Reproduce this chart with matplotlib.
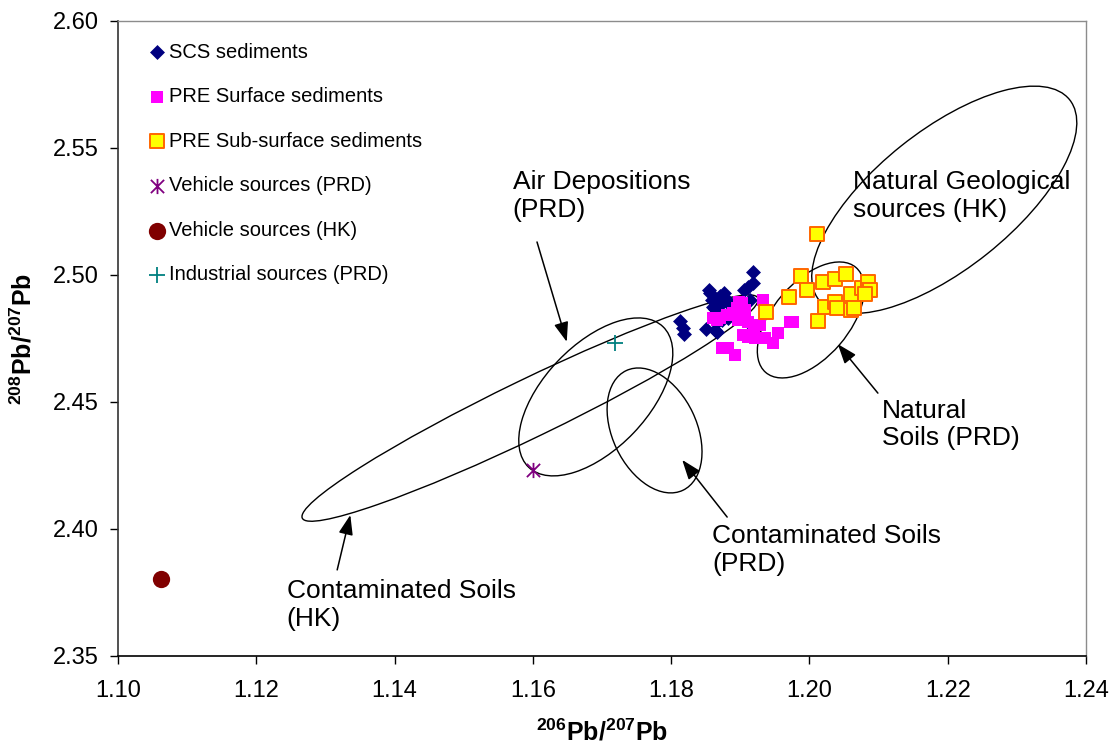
import matplotlib
matplotlib.use('Agg')
import matplotlib.pyplot as plt
from matplotlib.patches import Ellipse
from matplotlib.path import Path
from matplotlib.transforms import ScaledTranslation

plt.rcParams['font.family'] = ['Liberation Sans', 'DejaVu Sans']
plt.rcParams['mathtext.fontset'] = 'custom'
plt.rcParams['mathtext.rm'] = 'Liberation Sans'
plt.rcParams['mathtext.bf'] = 'Liberation Sans:bold'

# ---------------- data ----------------
scs_x = [1.1813, 1.1817, 1.1819, 1.1850, 1.1855, 1.1856, 1.1859, 1.1861, 1.1864, 1.1867,
         1.1867, 1.1871, 1.1874, 1.1876, 1.1881, 1.1882, 1.1885, 1.1897, 1.1905, 1.1911,
         1.1914, 1.1918, 1.1919, 1.1911, 1.1864, 1.1874]
scs_y = [2.4819, 2.4791, 2.4768, 2.4787, 2.4941, 2.4929, 2.4902, 2.4874, 2.4866, 2.4815,
         2.4776, 2.4917, 2.4890, 2.4929, 2.4902, 2.4831, 2.4882, 2.4831, 2.4941, 2.4953,
         2.4902, 2.4969, 2.5012, 2.4815, 2.4783, 2.4823]

pre_surf_x = [1.1861, 1.1867, 1.1871, 1.1890, 1.1895, 1.1898, 1.1903, 1.1902, 1.1907, 1.1902,
              1.1911, 1.1920, 1.1929, 1.1933, 1.1936, 1.1874, 1.1882, 1.1892, 1.1904, 1.1911,
              1.1947, 1.1955, 1.1972, 1.1976, 1.1921, 1.1881, 1.1897]
pre_surf_y = [2.4831, 2.4823, 2.4831, 2.4850, 2.4870, 2.4895, 2.4890, 2.4880, 2.4862, 2.4831,
              2.4815, 2.4799, 2.4803, 2.4902, 2.4752, 2.4713, 2.4713, 2.4685, 2.4764, 2.4756,
              2.4732, 2.4772, 2.4815, 2.4815, 2.4752, 2.4843, 2.4823]

pre_sub_x = [1.1937, 1.1971, 1.1988, 1.1997, 1.2011, 1.2012, 1.2020, 1.2023, 1.2037, 1.2037,
             1.2053, 1.2060, 1.2060, 1.2076, 1.2085, 1.2085, 1.2088, 1.2080, 1.2040, 1.2064]
pre_sub_y = [2.4854, 2.4913, 2.4996, 2.4941, 2.5161, 2.4819, 2.4974, 2.4874, 2.4984, 2.4894,
             2.5004, 2.4925, 2.4862, 2.4949, 2.4974, 2.4941, 2.4941, 2.4925, 2.4870, 2.4870]

veh_prd_x = [1.1600]
veh_prd_y = [2.4232]
veh_hk_x = [1.1062]
veh_hk_y = [2.3805]
ind_prd_x = [1.1719]
ind_prd_y = [2.4732]

x_ticks = [1.10, 1.12, 1.14, 1.16, 1.18, 1.20, 1.22, 1.24]
y_ticks = [2.35, 2.40, 2.45, 2.50, 2.55, 2.60]

# field ellipses: centre (data), semi-axes (pixels), angle (deg)
ell_cx = [1.2195, 1.2002, 1.1691, 1.1776, 1.1596]
ell_cy = [2.5296, 2.4823, 2.4520, 2.4388, 2.4476]
ell_a = [160.4, 69.2, 97.2, 66.2, 253.0]
ell_b = [69.0, 37.9, 52.2, 42.1, 29.0]
ell_ang = [38.6, 49.3, 46.3, -64.6, 25.8]

# annotations: label, text pos, arrow tail, arrow head (data)
ann_text = ["Air Depositions\n(PRD)", "Natural Geological\nsources (HK)", "Natural\nSoils (PRD)",
            "Contaminated Soils\n(PRD)", "Contaminated Soils\n(HK)"]
ann_tx = [1.1571, 1.2063, 1.2105, 1.1859, 1.1244]
ann_ty = [2.5414, 2.5414, 2.4513, 2.4020, 2.3804]
arr_tail_x = [1.1606, None, 1.2099, 1.1881, 1.1317]
arr_tail_y = [2.5130, None, 2.4535, 2.4047, 2.3839]
arr_head_x = [1.1649, None, 1.2041, 1.1816, 1.1336]
arr_head_y = [2.4737, None, 2.4728, 2.4272, 2.4055]

# ---------------- figure ----------------
fig = plt.figure(figsize=(11.2, 7.51), dpi=100)
ax = fig.add_axes([0.10536, 0.1265, 0.86429, 0.84554])

star = Path([(0, -1.15), (0, 1.15), (-1, -1), (1, 1), (-1, 1), (1, -1)],
            [Path.MOVETO, Path.LINETO, Path.MOVETO, Path.LINETO, Path.MOVETO, Path.LINETO])

ax.scatter(scs_x, scs_y, marker='D', s=58, color='#000080', lw=0, label='SCS sediments', zorder=3)
ax.scatter(pre_surf_x, pre_surf_y, marker='s', s=78, color='#FF00FF', lw=0,
           label='PRE Surface sediments', zorder=4)
ax.scatter(pre_sub_x, pre_sub_y, marker='s', s=100, facecolor='#FFFF00', edgecolor='#FF6600',
           lw=1.4, label='PRE Sub-surface sediments', zorder=5)
ax.scatter(veh_prd_x, veh_prd_y, marker=star, s=120, color='#800080', lw=1.3,
           label='Vehicle sources (PRD)', zorder=5)
ax.scatter(veh_hk_x, veh_hk_y, marker='o', s=155, color='#800000', lw=0,
           label='Vehicle sources (HK)', zorder=5)
ax.scatter(ind_prd_x, ind_prd_y, marker='+', s=130, color='#008080', lw=1.3,
           label='Industrial sources (PRD)', zorder=5)

for cx, cy, a, b, ang in zip(ell_cx, ell_cy, ell_a, ell_b, ell_ang):
    tr = fig.dpi_scale_trans + ScaledTranslation(cx, cy, ax.transData)
    e = Ellipse((0, 0), width=2 * a / 100, height=2 * b / 100, angle=ang, transform=tr,
                fill=False, ec='black', lw=1.0, zorder=2)
    ax.add_patch(e)

for s, tx, ty, t0x, t0y, hx, hy in zip(ann_text, ann_tx, ann_ty, arr_tail_x, arr_tail_y,
                                        arr_head_x, arr_head_y):
    ax.text(tx, ty, s, fontsize=19, ha='left', va='top', linespacing=1.2, zorder=6)
    if t0x is not None:
        ax.annotate('', xy=(hx, hy), xytext=(t0x, t0y), textcoords='data',
                    arrowprops=dict(arrowstyle='-|>,head_length=0.6,head_width=0.22',
                                    mutation_scale=20, color='black', lw=1.1,
                                    shrinkA=0, shrinkB=0), zorder=6)

ax.set_xlim(1.10, 1.24)
ax.set_ylim(2.35, 2.60)
ax.set_xticks(x_ticks)
ax.set_yticks(y_ticks)
ax.set_xticklabels([f'{v:.2f}' for v in x_ticks])
ax.set_yticklabels([f'{v:.2f}' for v in y_ticks])
ax.tick_params(axis='both', direction='out', length=6, width=1.0, labelsize=17)
ax.tick_params(axis='y', pad=8)
ax.tick_params(axis='x', pad=11)

for side in ['top', 'right']:
    ax.spines[side].set_color('#8c8c8c')
    ax.spines[side].set_linewidth(1.0)
ax.spines['left'].set_color('#333333')
ax.spines['bottom'].set_color('black')
ax.spines['left'].set_linewidth(1.2)
ax.spines['bottom'].set_linewidth(1.2)

ax.set_xlabel(r'$\mathbf{^{206}Pb/^{207}Pb}$', fontsize=18)
ax.set_ylabel(r'$\mathbf{^{208}Pb/^{207}Pb}$', fontsize=18)
ax.xaxis.set_label_coords(0.5, -0.1)
ax.yaxis.set_label_coords(-0.084, 0.5)

leg = ax.legend(loc='upper left', bbox_to_anchor=(0.032, 0.966), frameon=False,
                fontsize=14.5, handlelength=0.8, handletextpad=0.2, labelspacing=1.27,
                borderpad=0, borderaxespad=0, scatterpoints=1)

fig.savefig('out.png', dpi=100)
